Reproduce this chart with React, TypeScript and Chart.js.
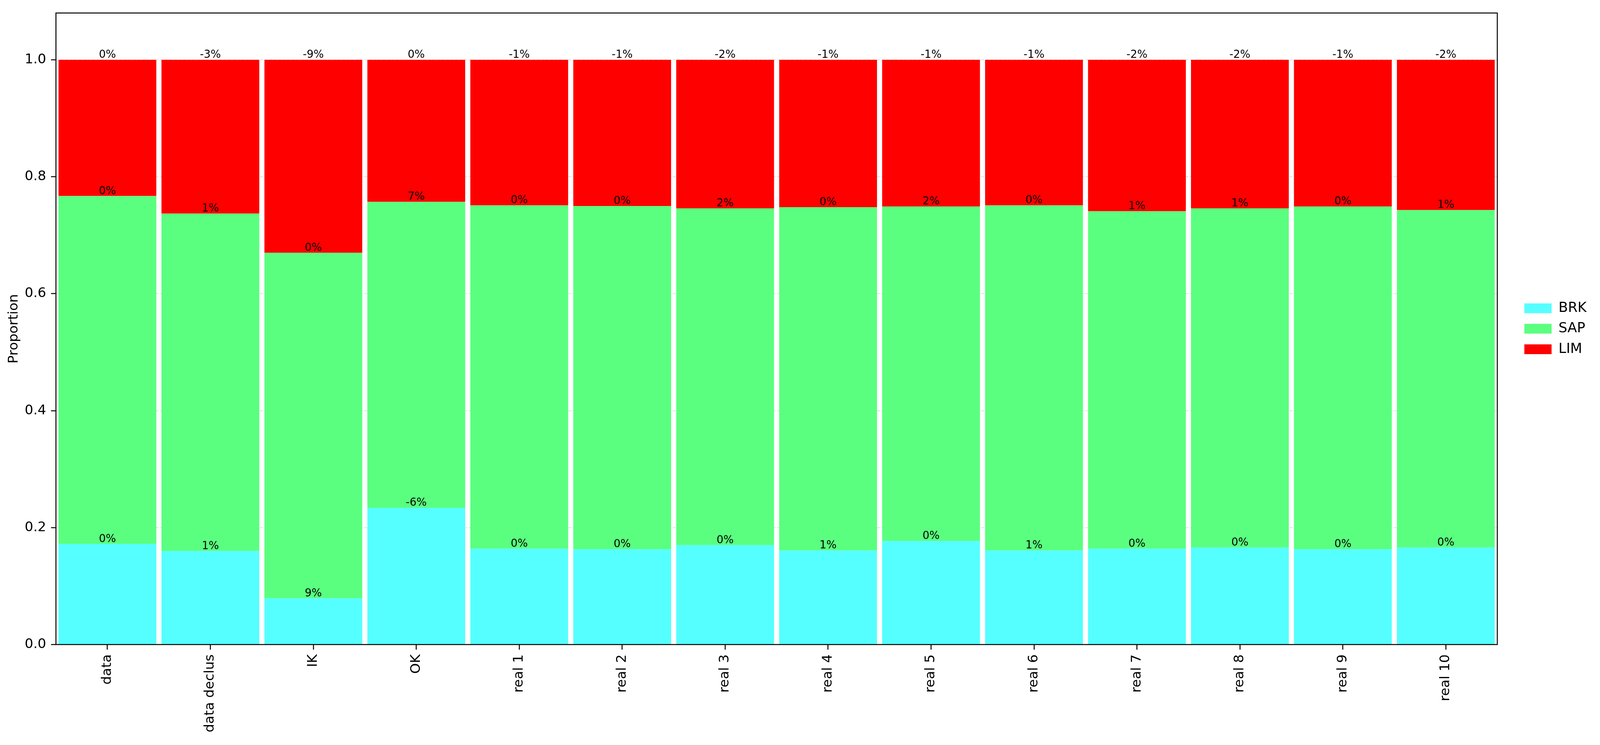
import { useEffect, useRef, useState } from 'react'
import { Chart, registerables, type Plugin } from 'chart.js'

Chart.register(...registerables)

const CATEGORIES = [
  'data', 'data declus', 'IK', 'OK',
  'real 1', 'real 2', 'real 3', 'real 4', 'real 5',
  'real 6', 'real 7', 'real 8', 'real 9', 'real 10',
]

// proportions per category
const BRK = [0.172, 0.160, 0.079, 0.234, 0.164, 0.163, 0.170, 0.161, 0.177, 0.161, 0.164, 0.166, 0.163, 0.166]
const SAP = [0.595, 0.577, 0.591, 0.523, 0.587, 0.587, 0.576, 0.587, 0.572, 0.590, 0.577, 0.580, 0.586, 0.577]
const LIM = [0.233, 0.263, 0.330, 0.243, 0.249, 0.250, 0.254, 0.252, 0.251, 0.249, 0.259, 0.254, 0.251, 0.257]

// difference labels printed above each segment
const BRK_LABELS = ['0%', '1%', '9%', '-6%', '0%', '0%', '0%', '1%', '0%', '1%', '0%', '0%', '0%', '0%']
const SAP_LABELS = ['0%', '1%', '0%', '7%', '0%', '0%', '2%', '0%', '2%', '0%', '1%', '1%', '0%', '1%']
const LIM_LABELS = ['0%', '-3%', '-9%', '0%', '-1%', '-1%', '-2%', '-1%', '-1%', '-1%', '-2%', '-2%', '-1%', '-2%']

const Y_TICKS = [0, 0.2, 0.4, 0.6, 0.8, 1.0]
const Y_MAX = 1.08

const FONT = "'DejaVu Sans', 'Liberation Sans', sans-serif"
// reference frame the layout was measured in
const REF_W = 4233
const REF_H = 1906

const SERIES = [
  { label: 'BRK', data: BRK, color: '#55ffff', labels: BRK_LABELS },
  { label: 'SAP', data: SAP, color: '#5aff7f', labels: SAP_LABELS },
  { label: 'LIM', data: LIM, color: '#ff0000', labels: LIM_LABELS },
]

function makeChart(canvas: HTMLCanvasElement, w: number, h: number) {
  const f = w / REF_W
  const fy = h / REF_H
  const px = (v: number) => v * f
  // text is squeezed horizontally only, so keep it between the two scales
  const fs = (v: number) => v * (f + fy) / 2

  const segmentLabels: Plugin<'bar'> = {
    id: 'segmentLabels',
    afterDraw(chart) {
      const { ctx } = chart
      ctx.save()
      ctx.font = `${fs(28)}px ${FONT}`
      ctx.fillStyle = '#000'
      ctx.textAlign = 'center'
      ctx.textBaseline = 'alphabetic'
      SERIES.forEach((s, di) => {
        chart.getDatasetMeta(di).data.forEach((bar, i) => {
          const { x, y } = bar.getProps(['x', 'y'], true) as { x: number; y: number }
          ctx.fillText(s.labels[i], x, y - 5 * fy)
        })
      })
      ctx.restore()
    },
  }

  const frame: Plugin<'bar'> = {
    id: 'frame',
    afterDraw(chart) {
      const { ctx, chartArea: a } = chart
      ctx.save()
      ctx.strokeStyle = '#000'
      ctx.lineWidth = 2.5
      ctx.strokeRect(a.left, a.top, a.right - a.left, a.bottom - a.top)
      ctx.restore()
    },
  }

  return new Chart(canvas, {
    type: 'bar',
    data: {
      labels: CATEGORIES,
      datasets: SERIES.map(s => ({
        label: s.label,
        data: s.data,
        backgroundColor: s.color,
        borderWidth: 0,
        barPercentage: 0.95,
        categoryPercentage: 1,
      })),
    },
    options: {
      responsive: false,
      animation: false,
      layout: { padding: { top: 22 * fy, left: 0, right: px(25), bottom: 0 } },
      plugins: {
        tooltip: { enabled: false },
        legend: {
          position: 'right',
          align: 'center',
          fullSize: false,
          labels: {
            boxWidth: px(72),
            boxHeight: 25 * fy,
            padding: 17 * fy,
            color: '#000',
            font: { size: fs(36), family: FONT },
          },
        },
      },
      scales: {
        x: {
          stacked: true,
          z: 1,
          grid: {
            display: true,
            drawOnChartArea: false,
            drawTicks: true,
            offset: false,
            tickLength: 13 * fy,
            tickColor: '#000',
            tickWidth: 2.5,
          },
          border: { display: false },
          ticks: {
            autoSkip: false,
            maxRotation: 90,
            minRotation: 90,
            padding: 12 * fy,
            color: '#000',
            font: { size: fs(35), family: FONT },
          },
          afterFit: s => { s.height = h - 1649 * fy },
        },
        y: {
          stacked: true,
          min: 0,
          max: Y_MAX,
          z: 1,
          afterBuildTicks: s => { s.ticks = Y_TICKS.map(v => ({ value: v })) },
          grid: {
            color: 'rgba(211,211,211,0.7)',
            lineWidth: 2,
            drawTicks: true,
            tickLength: px(13),
            tickColor: '#000',
            tickWidth: 2.5,
            tickBorderDash: [],
          },
          border: { display: false, dash: [px(8), px(4)] },
          ticks: {
            padding: px(13),
            color: '#000',
            font: { size: fs(35), family: FONT },
            callback: v => Number(v).toFixed(1),
          },
          title: {
            display: true,
            text: 'Proportion',
            color: '#000',
            font: { size: fs(35), family: FONT },
            padding: { top: px(16), bottom: 0 },
          },
          afterFit: s => { s.width = px(148) },
        },
        // empty axis that only opens the space between the frame and the legend
        gap: {
          type: 'linear',
          position: 'right',
          display: true,
          grid: { display: false },
          border: { display: false },
          ticks: { display: false },
          afterFit: s => { s.width = px(54) },
        },
      },
    },
    plugins: [segmentLabels, frame],
  })
}

export default function App() {
  const canvasRef = useRef<HTMLCanvasElement>(null)
  const [size] = useState(() => {
    document.body.style.margin = '0'
    document.body.style.overflow = 'hidden'
    return { w: window.innerWidth || REF_W, h: window.innerHeight || REF_H }
  })

  useEffect(() => {
    if (!canvasRef.current) return
    const chart = makeChart(canvasRef.current, size.w, size.h)
    return () => chart.destroy()
  }, [size])

  return (
    <div style={{ width: size.w, height: size.h, background: '#fff' }}>
      <canvas ref={canvasRef} style={{ display: 'block', width: size.w, height: size.h }} />
    </div>
  )
}
